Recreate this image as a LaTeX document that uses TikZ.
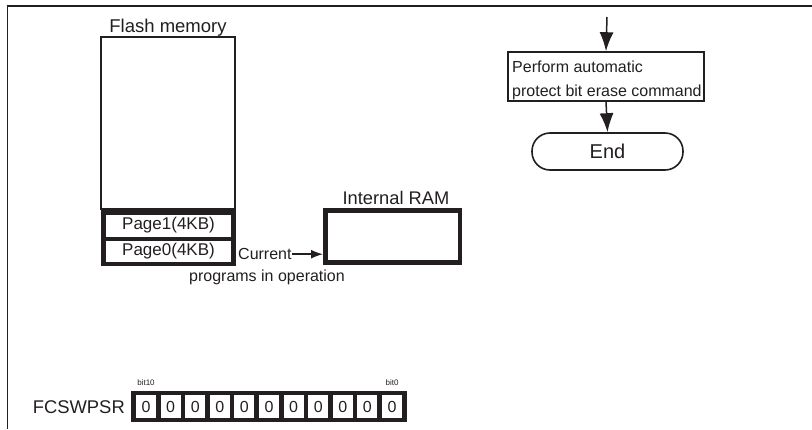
\documentclass[tikz,border=0pt]{standalone}
\usepackage{fontspec}
\setmainfont{Liberation Sans}
\usetikzlibrary{arrows.meta,positioning}
\definecolor{ink}{HTML}{231F20}
\newcommand{\fsz}[2]{\fontsize{#1}{#2}\selectfont}

\begin{document}
\begin{tikzpicture}[x=1pt, y=-1pt, >={Latex[length=19pt,width=14pt]},
  every node/.style={inner sep=0pt, text=ink},
  box/.style={draw=ink, line width=1.6pt},
  heavy/.style={draw=ink, line width=4.5pt},
  cell/.style={draw=ink, line width=4.5pt, minimum width=24.6pt, minimum height=27pt, font=\fsz{16}{19}}]
\useasboundingbox (0,0) rectangle (812,429);
% frame
\draw[ink, line width=2.2pt] (6.5,5.8) -- (812,5.8);
\draw[ink, line width=1.5pt] (7.5,4.5) -- (7.5,429);
% flash memory
\node[box, line width=1.4pt, minimum width=134pt, minimum height=172pt] (flash) at (168,123) {};
\node[font=\fsz{18.5}{22}, anchor=base] (flashlbl) at (168,32) {Flash memory};
\node[heavy, minimum width=130pt, minimum height=26.5pt, font=\fsz{17}{20}] (page1) at (168.5,225.5) {Page1(4KB)};
\node[heavy, minimum width=130pt, minimum height=25pt, font=\fsz{17}{20}] (page0) at (168.5,251.5) {Page0(4KB)};
% internal RAM
\node[heavy, minimum width=134.5pt, minimum height=52pt] (ram) at (392.5,236.5) {};
\node[font=\fsz{18.3}{22}, anchor=base] (ramlbl) at (396,204.5) {Internal RAM};
\node[font=\fsz{16}{19}, anchor=base west] (cur) at (238,259.7) {Current};
\node[font=\fsz{16}{19}, anchor=base] (prog) at (267,281) {programs in operation};
\draw[ink, line width=1.5pt, -{Latex[length=12pt,width=9pt]}] (cur.east) -- (cur.east -| ram.west);
% flow
\coordinate (in) at (607,17);
\node[box, minimum width=196pt, minimum height=49pt] (cmd) at (606,76.5) {};
\node[font=\fsz{16}{24}, align=left, anchor=north west] (cmdtxt) at (512,60.5)
  {Perform automatic\\protect bit erase command};
\node[box, rounded corners=18pt, minimum width=151pt, minimum height=37pt, font=\fsz{20}{24}] (fin) at (607.5,151.5) {End};
\draw[ink, line width=1.5pt, ->] (in) -- (cmd.north);
\draw[ink, line width=1.5pt, ->] (cmd.south) -- (fin.north);
% register
\node[font=\fsz{18.4}{22}, anchor=east] (reg) at (125,407) {FCSWPSR};
\foreach \i in {0,...,10}
  \node[cell] (c\i) at ({146+24.6*\i},406.5) {0};
\node[font=\fsz{8}{10}, above=5pt of c0] (b10) {bit10};
\node[font=\fsz{8}{10}, above=5pt of c10] (b0) {bit0};
\end{tikzpicture}
\end{document}
